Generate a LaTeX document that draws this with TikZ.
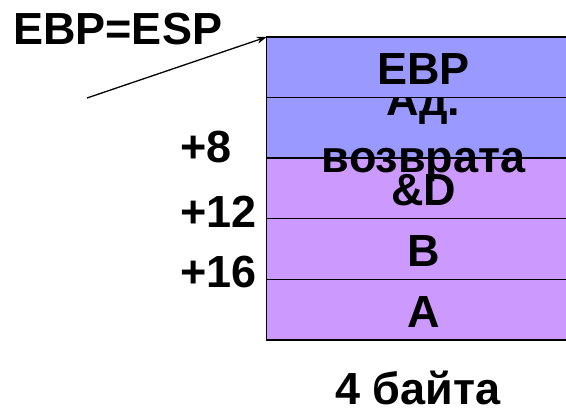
\documentclass[tikz,border=0pt]{standalone}
\usepackage{fontspec}
\setmainfont{Liberation Sans}
\usetikzlibrary{positioning, arrows.meta}

\definecolor{frameblue}{HTML}{9999FF}
\definecolor{argviolet}{HTML}{CC99FF}
\newcommand{\stackfont}{\fontsize{45}{57}\selectfont\bfseries}

\begin{document}
\begin{tikzpicture}[x=1pt, y=-1pt,
    cell/.style={draw, line width=1.4pt, minimum width=314pt, minimum height=60.6pt,
      text height=35pt, text depth=0pt, inner sep=0pt, outer sep=0pt, font=\stackfont},
    offset/.style={anchor=base west, font=\stackfont, inner sep=0pt}]
	\clip (0,0) rectangle (566,411);
	\fill[white] (0,0) rectangle (566,411);

	% stack cells, drawn bottom up so the upper ones lie on top
	\node [cell, fill=argviolet, anchor=north west] (arga) at (266.7,279.4) {A};
	\node [cell, fill=argviolet, above=0pt of arga] (argb) {B};
	\node [cell, fill=argviolet, above=0pt of argb] (argd) {\&D};
	\node [cell, fill=frameblue, above=0pt of argd] (ret) {};
	\node [font=\stackfont, align=center, inner sep=0pt] (retlabel) at ([yshift=-5pt]ret.center) {Ад.\\возврата};
	\node [cell, fill=frameblue, above=0pt of ret] (ebp) {EBP};

	% offsets from EBP
	\node [offset] (off8) at (180,163) {+8};
	\node [offset] (off12) at (180,228) {+12};
	\node [offset] (off16) at (180,288) {+16};

	\node [offset] (ptr) at (13,45) {EBP=ESP};
	\coordinate (tail) at (87,98);
	\draw [-{Stealth[length=10pt, width=7pt]}, line width=1.3pt] (tail) -- (ebp.north west);

	\node [anchor=base, font=\stackfont, inner sep=0pt] (width) at (418,405) {4 байта};
\end{tikzpicture}
\end{document}
